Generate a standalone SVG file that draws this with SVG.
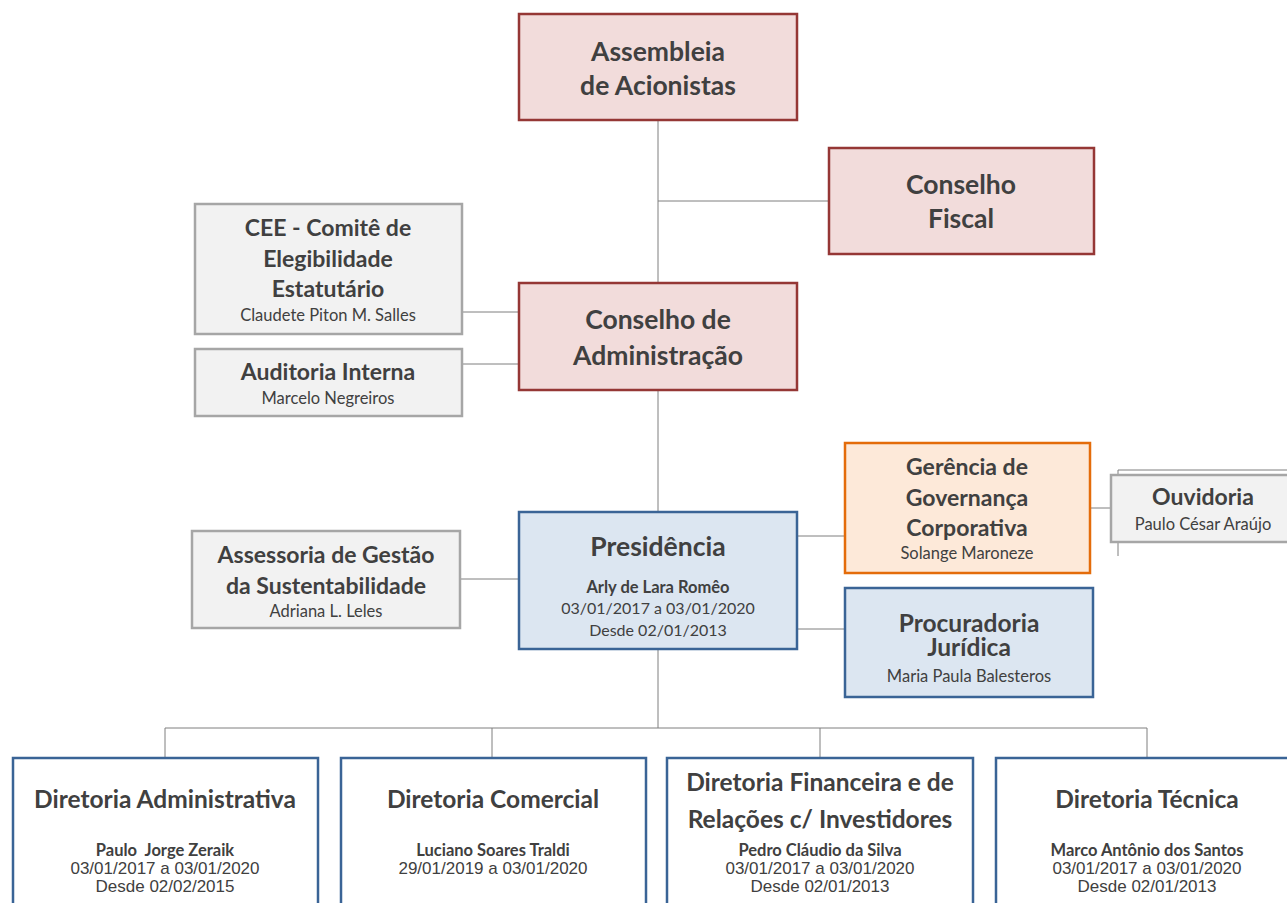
<svg xmlns="http://www.w3.org/2000/svg" width="1287" height="903" viewBox="0 0 1287 903">
<style>
.red{fill:#f2dcdb;stroke:#953735;stroke-width:2.5}
.gray{fill:#f2f2f2;stroke:#a6a6a6;stroke-width:2.5}
.blue{fill:#dce6f1;stroke:#3a6496;stroke-width:2.5}
.orange{fill:#fde9d9;stroke:#e46c0a;stroke-width:2.5}
.white{fill:#ffffff;stroke:#3a6496;stroke-width:2.5}
text{font-family:Lato,"Open Sans",sans-serif;fill:#404040;text-anchor:middle}
.t1{font-size:26.5px;font-weight:bold}
.t2{font-size:23px;font-weight:bold}
.t3{font-size:24.5px;font-weight:bold}
.s{font-size:16.5px}
.sd{font-size:16px}
.sb{font-size:16.5px;font-weight:bold}
.d{font-family:"Liberation Sans",Arial,sans-serif;font-size:17px}
.c{stroke:#7f7f7f;stroke-width:1;fill:none}
</style>
<g id="connectors">
<path class="c" d="M658 120V283M658 201H829M462 312H519M462 364H519M658 390V512M460 579H519M797 536H845M1090 508H1111M797 629H845M658 649V728M165 728H1147M165 728V758M492 728V758M820 728V758M1147 728V758"/>
<path class="c" d="M1118 556V470H1287" stroke="#bfbfbf"/>
</g>
<g id="assembleia"><rect class="red" x="519" y="14" width="278" height="106"/>
<text class="t1" x="658" y="61">Assembleia</text><text class="t1" x="658" y="95">de Acionistas</text></g>
<g id="conselho-fiscal"><rect class="red" x="829" y="148" width="265" height="106"/>
<text class="t1" x="961" y="194">Conselho</text><text class="t1" x="961" y="228">Fiscal</text></g>
<g id="cee"><rect class="gray" x="195" y="204" width="267" height="130"/>
<text class="t2" x="328" y="236">CEE - Comitê de</text><text class="t2" x="328" y="267">Elegibilidade</text><text class="t2" x="328" y="297">Estatutário</text><text class="s" x="328" y="321">Claudete Piton M. Salles</text></g>
<g id="conselho-adm"><rect class="red" x="519" y="283" width="278" height="107"/>
<text class="t1" x="658" y="329">Conselho de</text><text class="t1" x="658" y="365">Administração</text></g>
<g id="auditoria"><rect class="gray" x="195" y="349" width="267" height="67"/>
<text class="t2" x="328" y="380">Auditoria Interna</text><text class="s" x="328" y="404">Marcelo Negreiros</text></g>
<g id="presidencia"><rect class="blue" x="519" y="512" width="278" height="137"/>
<text class="t1" x="658" y="556">Presidência</text><text class="sb" x="658" y="593">Arly de Lara Romêo</text><text class="sd" x="658" y="614">03/01/2017 a 03/01/2020</text><text class="sd" x="658" y="636">Desde 02/01/2013</text></g>
<g id="assessoria"><rect class="gray" x="192" y="531" width="268" height="97"/>
<text class="t2" x="326" y="563">Assessoria de Gestão</text><text class="t2" x="326" y="594">da Sustentabilidade</text><text class="s" x="326" y="617">Adriana L. Leles</text></g>
<g id="gerencia"><rect class="orange" x="845" y="443" width="245" height="130"/>
<text class="t2" x="967" y="475">Gerência de</text><text class="t2" x="967" y="506">Governança</text><text class="t2" x="967" y="536">Corporativa</text><text class="s" x="967" y="559">Solange Maroneze</text></g>
<g id="ouvidoria"><rect class="gray" x="1111" y="475" width="185" height="67"/>
<text class="t2" x="1203" y="505">Ouvidoria</text><text class="s" x="1203" y="530">Paulo César Araújo</text></g>
<g id="procuradoria"><rect class="blue" x="845" y="588" width="248" height="109"/>
<text class="t3" x="969" y="632">Procuradoria</text><text class="t3" x="969" y="656">Jurídica</text><text class="s" x="969" y="682">Maria Paula Balesteros</text></g>
<g id="dir-adm"><rect class="white" x="13" y="758" width="305" height="160"/>
<text class="t3" x="165" y="808">Diretoria Administrativa</text><text class="sb" x="165" y="856" style="white-space:pre">Paulo  Jorge Zeraik</text><text class="d" x="165" y="874">03/01/2017 a 03/01/2020</text><text class="d" x="165" y="892">Desde 02/02/2015</text></g>
<g id="dir-com"><rect class="white" x="341" y="758" width="305" height="160"/>
<text class="t3" x="493" y="808">Diretoria Comercial</text><text class="sb" x="493" y="856">Luciano Soares Traldi</text><text class="d" x="493" y="874">29/01/2019 a 03/01/2020</text></g>
<g id="dir-fin"><rect class="white" x="667" y="758" width="306" height="160"/>
<text class="t3" x="820" y="791">Diretoria Financeira e de</text><text class="t3" x="820" y="828">Relações c/ Investidores</text><text class="sb" x="820" y="856">Pedro Cláudio da Silva</text><text class="d" x="820" y="874">03/01/2017 a 03/01/2020</text><text class="d" x="820" y="892">Desde 02/01/2013</text></g>
<g id="dir-tec"><rect class="white" x="996" y="758" width="310" height="160"/>
<text class="t3" x="1147" y="808">Diretoria Técnica</text><text class="sb" x="1147" y="856">Marco Antônio dos Santos</text><text class="d" x="1147" y="874">03/01/2017 a 03/01/2020</text><text class="d" x="1147" y="892">Desde 02/01/2013</text></g>
</svg>
